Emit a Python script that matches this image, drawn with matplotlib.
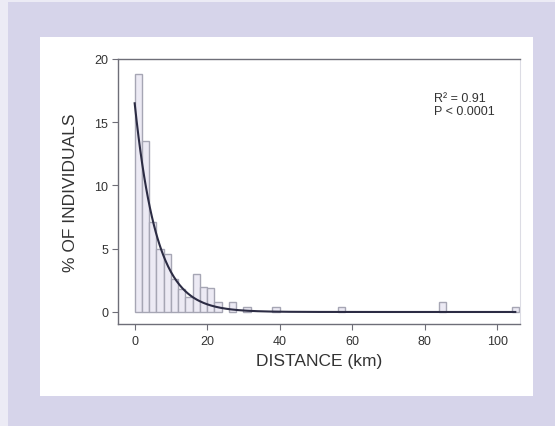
import numpy as np
import matplotlib
matplotlib.use('Agg')
import matplotlib.pyplot as plt
from matplotlib.patches import Rectangle

# Histogram bins (2 km wide, centre in km) and % of individuals
bin_centers = [1, 3, 5, 7, 9, 11, 13, 15, 17, 19, 21, 23, 27, 31, 39, 57, 85, 105]
bin_pct = [18.8, 13.5, 7.1, 5.0, 4.6, 2.6, 1.8, 1.2, 3.0, 2.0, 1.9, 0.8, 0.8,
           0.4, 0.4, 0.4, 0.8, 0.4]
bin_width = 2.0

# Negative exponential fit y = a * exp(-b * x)
fit_a = 16.5
fit_b = 0.165

x_ticks = [0, 20, 40, 60, 80, 100]
y_ticks = [0, 5, 10, 15, 20]

plt.rcParams['font.family'] = ['Liberation Sans', 'DejaVu Sans']

W, H = 555, 427
fig = plt.figure(figsize=(W / 100, H / 100), dpi=100)
fig.patch.set_facecolor('#ecebf5')

# lavender frame and white panel
fig.patches.append(Rectangle((8 / W, 0), 1 - 8 / W, 1 - 3 / H,
                             transform=fig.transFigure, facecolor='#d6d4ea',
                             edgecolor='none', zorder=-2))
fig.patches.append(Rectangle((40 / W, 1 - 397 / H), (533 - 40) / W, (397 - 38) / H,
                             transform=fig.transFigure, facecolor='white',
                             edgecolor='none', zorder=-1))

ax = fig.add_axes([118 / W, 1 - 325 / H, (520 - 118) / W, (325 - 60) / H])
ax.set_facecolor('none')

ax.bar(bin_centers, bin_pct, width=bin_width, color='#eceaf4',
       edgecolor='#a6a6b4', linewidth=1.0, zorder=2)

xs = np.linspace(0, 105, 400)
ax.plot(xs, fit_a * np.exp(-fit_b * xs), color='#2c2c44', lw=1.5, zorder=3)

ax.set_xlim(-4.6, 106.3)
ax.set_ylim(-0.95, 20)
ax.set_xticks(x_ticks)
ax.set_yticks(y_ticks)

for side in ['left', 'bottom', 'top']:
    ax.spines[side].set_color('#6e6e78')
    ax.spines[side].set_linewidth(1.0)
ax.spines['right'].set_color('#dcdce4')
ax.spines['right'].set_linewidth(0.8)

ax.tick_params(direction='out', length=4, width=0.8, color='#6e6e78',
               labelsize=9, labelcolor='#333333', pad=3)
ax.tick_params(axis='x', pad=4)

ax.set_xlabel('DISTANCE (km)', fontsize=12.5, color='#333333', labelpad=4)
ax.set_ylabel('% OF INDIVIDUALS', fontsize=12.5, color='#333333', labelpad=12)

ax.text(0.785, 0.875, 'R² = 0.91', transform=ax.transAxes, fontsize=9,
        color='#333333', va='top', ha='left')
ax.text(0.785, 0.825, 'P < 0.0001', transform=ax.transAxes, fontsize=9,
        color='#333333', va='top', ha='left')

fig.savefig('out.png', dpi=100, facecolor=fig.get_facecolor())
